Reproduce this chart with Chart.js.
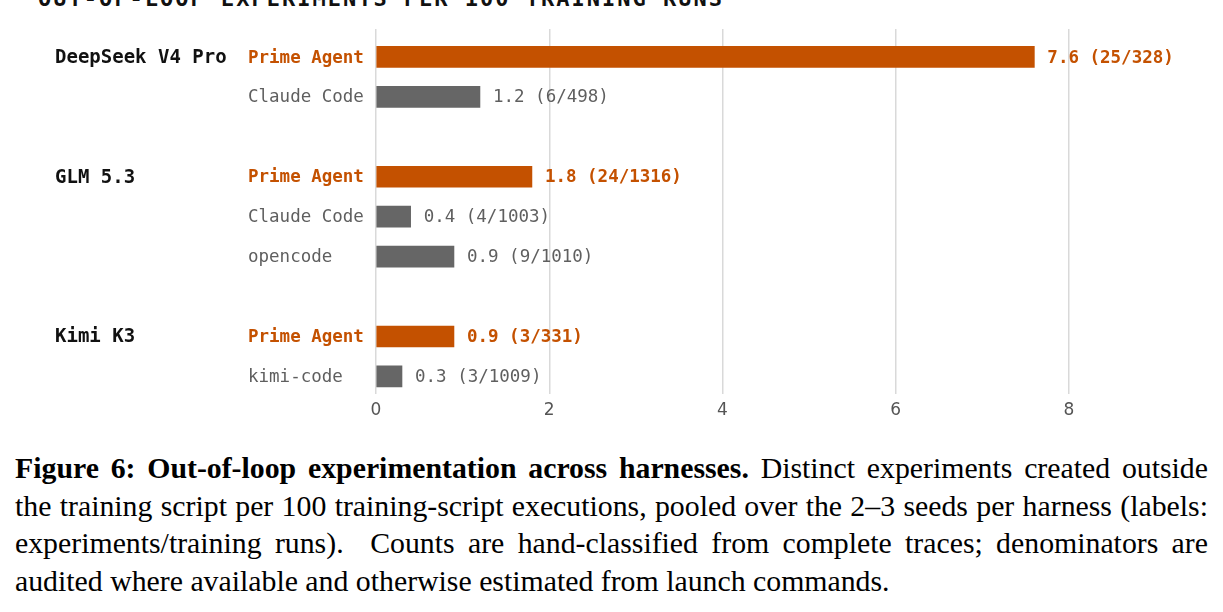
<!DOCTYPE html>
<html>
<head>
<meta charset="utf-8">
<script src="https://cdn.jsdelivr.net/npm/chart.js@4.4.1/dist/chart.umd.min.js"></script>
<style>
  html, body { margin: 0; padding: 0; background: #fff; width: 1223px; height: 612px; overflow: hidden; }
  #wrap { position: relative; width: 1223px; height: 612px; }
  #title {
    position: absolute; left: 38px; top: -12px;
    font: bold 22px "DejaVu Sans Mono", monospace; line-height: 22px;
    letter-spacing: 2px; color: #111; white-space: nowrap;
  }
  #chartBox { position: absolute; left: 0; top: 0; width: 1223px; height: 438px; }
  #caption {
    position: absolute; left: 15px; top: 449px; width: 1193px;
    font: 29.8px "Liberation Serif", "Times New Roman", serif; line-height: 37.5px;
    color: #000;
  }
  #caption .j { text-align: justify; text-align-last: justify; white-space: nowrap; }
  #caption div { white-space: nowrap; }
</style>
</head>
<body>
<div id="wrap">
  <div id="title">OUT-OF-LOOP EXPERIMENTS PER 100 TRAINING RUNS</div>
  <div id="chartBox"><canvas id="oolChart"></canvas></div>
  <div id="caption">
    <div class="j"><b>Figure 6: Out-of-loop experimentation across harnesses.</b> Distinct experiments created outside</div>
    <div class="j">the training script per 100 training-script executions, pooled over the 2–3 seeds per harness (labels:</div>
    <div class="j">experiments/training runs). &nbsp;Counts are hand-classified from complete traces; denominators are</div>
    <div>audited where available and otherwise estimated from launch commands.</div>
  </div>
</div>
<script>
// Dados do gráfico
const models = ['DeepSeek V4 Pro', 'GLM 5.3', 'Kimi K3'];
const harnesses = [
    ['Prime Agent', 'Claude Code'],
    ['Prime Agent', 'Claude Code', 'opencode'],
    ['Prime Agent', 'kimi-code']
];
const rates = [
    [7.6, 1.2],
    [1.8, 0.4, 0.9],
    [0.9, 0.3]
];
const counts = [
    ['25/328', '6/498'],
    ['24/1316', '4/1003', '9/1010'],
    ['3/331', '3/1009']
];
const xTicks = [0, 2, 4, 6, 8];

const COLORS = {
    prime: '#C45100',
    other: '#666666',
    otherText: '#5f5f5f',
    grid: '#d9d9d9',
    tick: '#555555'
};
const MONO = '"DejaVu Sans Mono", monospace';

// Monta as linhas (uma linha vazia entre grupos)
const rows = [];
let rowIdx = 0;
models.forEach((model, g) => {
    harnesses[g].forEach((h, i) => {
        rows.push({
            model: i === 0 ? model : null,
            harness: h,
            value: rates[g][i],
            label: rates[g][i].toFixed(1) + ' (' + counts[g][i] + ')',
            prime: h === 'Prime Agent',
            y: rowIdx
        });
        rowIdx++;
    });
    rowIdx++;
});
const lastRow = rows[rows.length - 1].y;

const labelsPlugin = {
    id: 'rowLabels',
    afterDatasetsDraw(chart) {
        const ctx = chart.ctx;
        const yScale = chart.scales.y;
        const meta = chart.getDatasetMeta(0);
        ctx.save();
        ctx.textBaseline = 'middle';
        rows.forEach((r, i) => {
            const py = yScale.getPixelForValue(r.y) + 1;
            if (r.model) {
                ctx.font = 'bold 19px ' + MONO;
                ctx.fillStyle = '#111111';
                ctx.textAlign = 'left';
                ctx.fillText(r.model, 55, py);
            }
            ctx.font = (r.prime ? 'bold ' : '') + '17.5px ' + MONO;
            ctx.fillStyle = r.prime ? COLORS.prime : COLORS.otherText;
            ctx.textAlign = 'left';
            ctx.fillText(r.harness, 248, py);
            const bar = meta.data[i];
            ctx.fillText(r.label, bar.x + 13, py);
        });
        ctx.restore();
    }
};

function createOolChart() {
    const canvas = document.getElementById('oolChart');
    if (!canvas) return;
    new Chart(canvas.getContext('2d'), {
        type: 'bar',
        data: {
            datasets: [{
                data: rows.map(r => ({ x: r.value, y: r.y })),
                backgroundColor: rows.map(r => r.prime ? COLORS.prime : COLORS.other),
                borderWidth: 0,
                barThickness: 21
            }]
        },
        options: {
            indexAxis: 'y',
            responsive: true,
            maintainAspectRatio: false,
            animation: false,
            layout: { padding: { left: 376, right: 154, top: 29, bottom: 10 } },
            plugins: { legend: { display: false }, tooltip: { enabled: false } },
            scales: {
                x: {
                    type: 'linear',
                    min: 0,
                    max: 8,
                    afterBuildTicks: axis => { axis.ticks = xTicks.map(v => ({ value: v })); },
                    grid: { color: COLORS.grid, lineWidth: 1.5, drawTicks: false },
                    border: { display: false },
                    ticks: { color: COLORS.tick, padding: 7, font: { family: 'DejaVu Sans', size: 17 } }
                },
                y: {
                    type: 'linear',
                    reverse: true,
                    offset: false,
                    min: -0.7,
                    max: lastRow + 0.43,
                    display: false
                }
            }
        },
        plugins: [labelsPlugin]
    });
}

createOolChart();
</script>
</body>
</html>
